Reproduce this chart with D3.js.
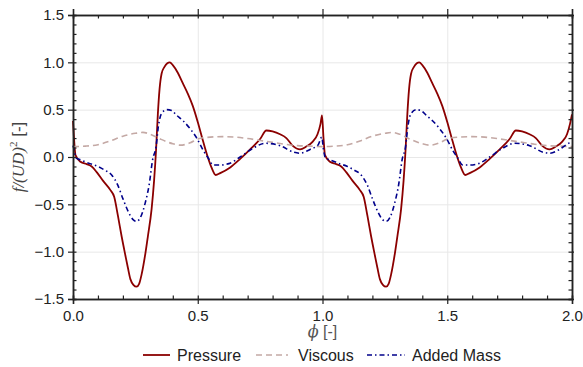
<!DOCTYPE html>
<html>
<head>
<meta charset="utf-8">
<script src="https://cdn.jsdelivr.net/npm/d3@7"></script>
<style>
  body { margin: 0; background: #fff; }
  text { font-family: "Liberation Sans", Arial, sans-serif; }
</style>
</head>
<body>
<div id="chart"></div>
<script>
// values, phi from 0 to 2
const phiPressure = [
  0, 0.004, 0.01, 0.03, 0.055, 0.075, 0.095, 0.12, 0.15, 0.165, 0.18, 0.195, 0.21, 0.22, 0.23, 0.242,
  0.255, 0.265, 0.275, 0.29, 0.30, 0.315, 0.325, 0.333, 0.34, 0.347, 0.355, 0.366, 0.378, 0.388, 0.40,
  0.42, 0.44, 0.46, 0.48, 0.50, 0.52, 0.54, 0.555, 0.572, 0.59, 0.63, 0.67, 0.71, 0.75, 0.775, 0.80,
  0.83, 0.855, 0.88, 0.91, 0.935, 0.96, 0.98, 0.992, 0.998,
  1.004, 1.01, 1.03, 1.055, 1.075, 1.095, 1.12, 1.15, 1.165, 1.18, 1.195, 1.21, 1.22, 1.23, 1.242,
  1.255, 1.265, 1.275, 1.29, 1.30, 1.315, 1.325, 1.333, 1.34, 1.347, 1.355, 1.366, 1.378, 1.388, 1.40,
  1.42, 1.44, 1.46, 1.48, 1.50, 1.52, 1.54, 1.555, 1.572, 1.59, 1.63, 1.67, 1.71, 1.75, 1.775, 1.80,
  1.83, 1.855, 1.88, 1.91, 1.935, 1.96, 1.98, 1.992, 2.0
];
const pressure = [
  0.38, 0.2, 0.02, -0.05, -0.075, -0.10, -0.16, -0.25, -0.35, -0.42, -0.62, -0.84, -1.04, -1.17, -1.29, -1.35,
  -1.37, -1.34, -1.24, -1.02, -0.84, -0.55, -0.25, 0.08, 0.45, 0.72, 0.88, 0.95, 0.99, 1.0, 0.97,
  0.89, 0.78, 0.67, 0.54, 0.37, 0.18, 0.0, -0.11, -0.19, -0.17, -0.11, -0.02, 0.08, 0.19, 0.28, 0.27,
  0.24, 0.20, 0.12, 0.08, 0.11, 0.16, 0.24, 0.35, 0.44,
  0.2, 0.02, -0.05, -0.075, -0.10, -0.16, -0.25, -0.35, -0.42, -0.62, -0.84, -1.04, -1.17, -1.29, -1.35,
  -1.37, -1.34, -1.24, -1.02, -0.84, -0.55, -0.25, 0.08, 0.45, 0.72, 0.88, 0.95, 0.99, 1.0, 0.97,
  0.89, 0.78, 0.67, 0.54, 0.37, 0.18, 0.0, -0.11, -0.19, -0.17, -0.11, -0.02, 0.08, 0.19, 0.28, 0.27,
  0.24, 0.20, 0.12, 0.08, 0.11, 0.16, 0.24, 0.35, 0.45
];

const phiViscous = [
  0, 0.05, 0.1, 0.15, 0.2, 0.25, 0.28, 0.31, 0.35, 0.4, 0.43, 0.47, 0.5, 0.55, 0.6, 0.65, 0.7, 0.75,
  0.8, 0.85, 0.9, 0.95,
  1.0, 1.05, 1.1, 1.15, 1.2, 1.25, 1.28, 1.31, 1.35, 1.4, 1.43, 1.47, 1.5, 1.55, 1.6, 1.65, 1.7, 1.75,
  1.8, 1.85, 1.9, 1.95, 2.0
];
const viscous = [
  0.11, 0.115, 0.13, 0.17, 0.22, 0.25, 0.26, 0.24, 0.19, 0.14, 0.125, 0.15, 0.19, 0.21, 0.215, 0.21, 0.195, 0.175,
  0.155, 0.135, 0.12, 0.115,
  0.11, 0.115, 0.13, 0.17, 0.22, 0.25, 0.26, 0.24, 0.19, 0.14, 0.125, 0.15, 0.19, 0.21, 0.215, 0.21, 0.195, 0.175,
  0.155, 0.135, 0.12, 0.115, 0.11
];

const phiAdded = [
  0, 0.004, 0.012, 0.03, 0.068, 0.10, 0.128, 0.155, 0.18, 0.20, 0.222, 0.242, 0.255, 0.27, 0.289, 0.306,
  0.319, 0.333, 0.342, 0.355, 0.376, 0.395, 0.416, 0.442, 0.469, 0.496, 0.522, 0.542, 0.562, 0.59, 0.625,
  0.67, 0.72, 0.77, 0.83, 0.885, 0.91, 0.95, 0.983, 0.997,
  1.004, 1.012, 1.03, 1.068, 1.10, 1.128, 1.155, 1.18, 1.20, 1.222, 1.242, 1.255, 1.27, 1.289, 1.306,
  1.319, 1.333, 1.342, 1.355, 1.376, 1.395, 1.416, 1.442, 1.469, 1.496, 1.522, 1.542, 1.562, 1.59, 1.625,
  1.67, 1.72, 1.77, 1.83, 1.885, 1.91, 1.95, 1.983, 2.0
];
const addedMass = [
  0.12, 0.08, -0.01, -0.03, -0.07, -0.10, -0.14, -0.19, -0.30, -0.44, -0.58, -0.665, -0.68, -0.64, -0.49, -0.28,
  -0.03, 0.11, 0.32, 0.46, 0.50, 0.49, 0.44, 0.38, 0.30, 0.20, 0.07, -0.01, -0.085, -0.085, -0.07,
  0.0, 0.09, 0.145, 0.12, 0.05, 0.04, 0.08, 0.13, 0.21,
  0.08, -0.01, -0.03, -0.07, -0.10, -0.14, -0.19, -0.30, -0.44, -0.58, -0.665, -0.68, -0.64, -0.49, -0.28,
  -0.03, 0.11, 0.32, 0.46, 0.50, 0.49, 0.44, 0.38, 0.30, 0.20, 0.07, -0.01, -0.085, -0.085, -0.07,
  0.0, 0.09, 0.145, 0.12, 0.05, 0.04, 0.08, 0.14, 0.16
];

const seriesNames = ["Pressure", "Viscous", "Added Mass"];
const seriesColors = ["#8b0000", "#c4a9a5", "#00008b"];
const seriesDash = [null, "6,4", "5,3,1.5,3"];
const seriesWidth = [1.8, 1.6, 1.6];

const xMajor = [0, 0.5, 1.0, 1.5, 2.0];
const yMajor = [-1.5, -1.0, -0.5, 0, 0.5, 1.0, 1.5];

const margin = { top: 15, right: 11, bottom: 68, left: 73 };
const W = 583, H = 367;
const width = W - margin.left - margin.right;
const height = H - margin.top - margin.bottom;

const svg = d3.select("#chart").append("svg").attr("width", W).attr("height", H);
const chart = svg.append("g").attr("transform", `translate(${margin.left},${margin.top})`);

const x = d3.scaleLinear().domain([0, 2]).range([0, width]);
const y = d3.scaleLinear().domain([-1.5, 1.5]).range([height, 0]);

const xMinor = d3.range(0, 2.0001, 0.1).map((d) => +d.toFixed(1));
const yMinor = d3.range(-1.5, 1.5001, 0.1).map((d) => +d.toFixed(1));

// grid
chart.append("g")
  .attr("transform", `translate(0,${height})`)
  .call(d3.axisBottom(x).tickValues([0.5, 1.0, 1.5]).tickSize(-height).tickFormat(""))
  .call((g) => g.select(".domain").remove())
  .selectAll("line").attr("stroke", "#e8e8e8").attr("stroke-width", 1);
chart.append("g")
  .call(d3.axisLeft(y).tickValues([-1.0, -0.5, 0, 0.5, 1.0]).tickSize(-width).tickFormat(""))
  .call((g) => g.select(".domain").remove())
  .selectAll("line").attr("stroke", "#e8e8e8").attr("stroke-width", 1);

// lines
const sets = [
  [phiPressure, pressure],
  [phiViscous, viscous],
  [phiAdded, addedMass]
];
const line = d3.line().x((d) => x(d[0])).y((d) => y(d[1])).curve(d3.curveMonotoneX);
sets.forEach(([px, py], i) => {
  chart.append("path")
    .datum(px.map((p, j) => [p, py[j]]))
    .attr("d", line)
    .attr("fill", "none")
    .attr("stroke", seriesColors[i])
    .attr("stroke-width", seriesWidth[i])
    .attr("stroke-dasharray", seriesDash[i]);
});

// axes
function styleAxis(g) {
  g.selectAll("line").attr("stroke", "#222").attr("stroke-width", 1.2);
  g.select(".domain").attr("stroke", "#222").attr("stroke-width", 1.5);
}
const fmt = (d) => d3.format(".1f")(d).replace("-", "\u2212");

// bottom
chart.append("g").attr("transform", `translate(0,${height})`)
  .call(d3.axisBottom(x).tickValues(xMinor).tickSize(-3.5).tickFormat(""))
  .call(styleAxis);
const xb = chart.append("g").attr("transform", `translate(0,${height})`)
  .call(d3.axisBottom(x).tickValues(xMajor).tickSize(5).tickPadding(6).tickFormat(fmt))
  .call(styleAxis);
xb.selectAll("text").attr("font-size", 15).attr("fill", "#222");

// top
chart.append("g")
  .call(d3.axisTop(x).tickValues(xMinor).tickSize(-3.5).tickFormat(""))
  .call(styleAxis);
chart.append("g")
  .call(d3.axisTop(x).tickValues(xMajor).tickSize(6).tickFormat(""))
  .call(styleAxis);

// left
chart.append("g")
  .call(d3.axisLeft(y).tickValues(yMinor).tickSize(-3.5).tickFormat(""))
  .call(styleAxis);
const yl = chart.append("g")
  .call(d3.axisLeft(y).tickValues(yMajor).tickSize(5).tickPadding(4).tickFormat(fmt))
  .call(styleAxis);
yl.selectAll("text").attr("font-size", 15).attr("fill", "#222");

// right
chart.append("g").attr("transform", `translate(${width},0)`)
  .call(d3.axisRight(y).tickValues(yMinor).tickSize(-3.5).tickFormat(""))
  .call(styleAxis);
chart.append("g").attr("transform", `translate(${width},0)`)
  .call(d3.axisRight(y).tickValues(yMajor).tickSize(2).tickFormat(""))
  .call(styleAxis);

// axis labels
const xl = svg.append("text")
  .attr("x", margin.left + width / 2)
  .attr("y", margin.top + height + 38)
  .attr("text-anchor", "middle")
  .attr("font-size", 16)
  .attr("fill", "#555");
xl.append("tspan").attr("font-family", "DejaVu Serif").attr("font-style", "italic").text("\u03d5");
xl.append("tspan").text(" [-]");

const ylab = svg.append("text")
  .attr("transform", `translate(24,${margin.top + height / 2}) rotate(-90)`)
  .attr("text-anchor", "middle")
  .attr("font-size", 17)
  .attr("fill", "#444");
ylab.append("tspan").attr("font-family", "Liberation Serif").attr("font-style", "italic").text("f/(UD)");
ylab.append("tspan").attr("font-family", "Liberation Serif").attr("font-size", 11).attr("dy", -7).text("2");
ylab.append("tspan").attr("dy", 7).text(" [-]");

// legend
const legendX = [143, 256, 367];
const legendLen = [27, 32, 38];
const legendTextX = [177, 298, 412];
const legendY = 355;
const legend = svg.append("g");
seriesNames.forEach((name, i) => {
  legend.append("line")
    .attr("x1", legendX[i]).attr("x2", legendX[i] + legendLen[i])
    .attr("y1", legendY).attr("y2", legendY)
    .attr("stroke", seriesColors[i])
    .attr("stroke-width", seriesWidth[i])
    .attr("stroke-dasharray", seriesDash[i]);
  legend.append("text")
    .attr("x", legendTextX[i])
    .attr("y", legendY)
    .attr("dy", "0.35em")
    .attr("font-size", 16)
    .attr("fill", "#222")
    .text(name);
});
</script>
</body>
</html>
